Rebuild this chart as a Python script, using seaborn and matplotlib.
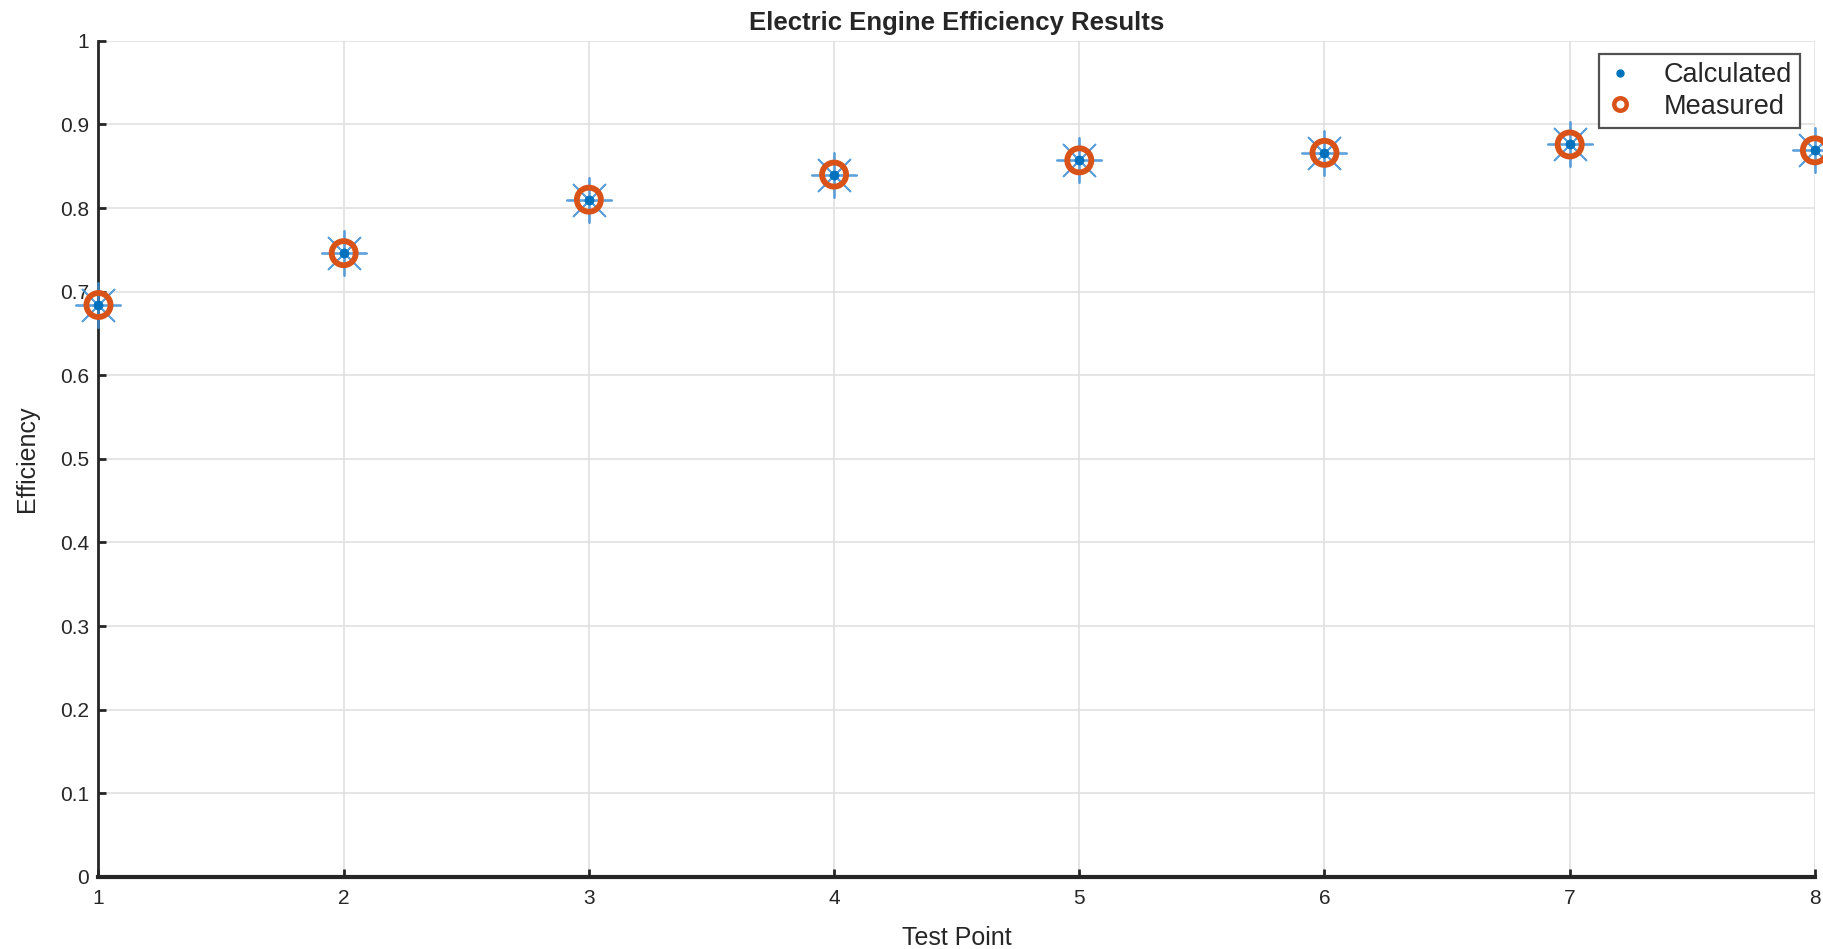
import matplotlib
matplotlib.use("Agg")
import matplotlib.pyplot as plt
from matplotlib.lines import Line2D
import pandas as pd
import seaborn as sns

# values
test_point = [1, 2, 3, 4, 5, 6, 7, 8]
calculated = [0.684, 0.746, 0.810, 0.840, 0.857, 0.866, 0.876, 0.869]
measured = [0.684, 0.746, 0.810, 0.840, 0.857, 0.866, 0.876, 0.869]
y_ticks = [0, 0.1, 0.2, 0.3, 0.4, 0.5, 0.6, 0.7, 0.8, 0.9, 1]
y_tick_labels = ["0", "0.1", "0.2", "0.3", "0.4", "0.5", "0.6", "0.7", "0.8", "0.9", "1"]

blue = "#0072BD"
red = "#D95319"

df = pd.DataFrame({"Test Point": test_point, "Calculated": calculated, "Measured": measured})

sns.set_style("white")
plt.rcParams["font.family"] = ["Liberation Sans", "DejaVu Sans"]

fig = plt.figure(figsize=(18.24, 9.49), dpi=100)
ax = fig.add_axes([0.054, 0.076, 0.941, 0.881])

# calculated: big asterisk + dot in the middle
sns.scatterplot(data=df, x="Test Point", y="Calculated", ax=ax, marker=(8, 2, 0),
                s=1050, color="#3f8fd6", linewidth=1.3, edgecolor="#3f8fd6", alpha=0.85,
                clip_on=False, zorder=3)
# measured: hollow thick circle
sns.scatterplot(data=df, x="Test Point", y="Measured", ax=ax, marker="o", s=300,
                facecolor="none", edgecolor=red, linewidth=4.2, clip_on=False, zorder=4)
sns.scatterplot(data=df, x="Test Point", y="Calculated", ax=ax, marker="o", s=50,
                color=blue, linewidth=0, clip_on=False, zorder=5)

ax.set_xlim(1, 8)
ax.set_ylim(0, 1)
ax.set_xticks(test_point)
ax.set_yticks(y_ticks)
ax.set_yticklabels(y_tick_labels)
ax.grid(True, color="#dedede", linewidth=1.1)
ax.set_axisbelow(True)

for side in ["top", "right"]:
    ax.spines[side].set_visible(False)
ax.spines["left"].set_linewidth(2)
ax.spines["bottom"].set_linewidth(3)
ax.spines["left"].set_color("#262626")
ax.spines["bottom"].set_color("#262626")
ax.tick_params(direction="in", length=6, width=2, labelsize=15, colors="#262626",
               left=True, bottom=True, pad=7)
ax.tick_params(axis="x", pad=9)

ax.set_xlabel("Test Point", fontsize=18, color="#262626", labelpad=13)
ax.set_ylabel("Efficiency", fontsize=18, color="#262626", labelpad=15)
ax.set_title("Electric Engine Efficiency Results", fontsize=18.5, fontweight="bold", pad=8)

handles = [
    Line2D([], [], linestyle="none", marker="o", markersize=5, color=blue),
    Line2D([], [], linestyle="none", marker="o", markersize=9, markerfacecolor="white",
           markeredgecolor=red, markeredgewidth=3.2),
]
leg = ax.legend(handles, ["Calculated", "Measured"], loc="upper right",
                bbox_to_anchor=(0.9915, 0.984), borderaxespad=0, fontsize=19.5,
                frameon=True, fancybox=False, edgecolor="#262626", handlelength=1.0,
                handletextpad=1.1, borderpad=0.3, labelspacing=0.2)
leg.get_frame().set_linewidth(1.6)

fig.savefig("out.png", dpi=100)
